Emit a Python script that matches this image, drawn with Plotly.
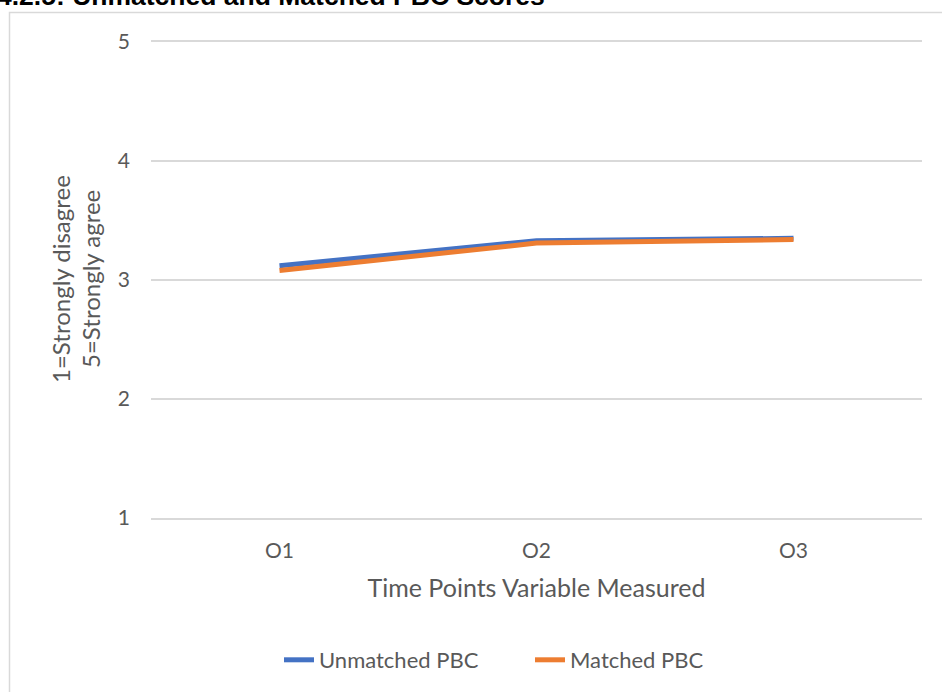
import plotly.graph_objects as go

categories = ["O1", "O2", "O3"]
unmatched = [3.12, 3.33, 3.35]
matched = [3.08, 3.31, 3.34]
y_ticks = [1, 2, 3, 4, 5]

W, H = 942, 692
L, R, T, B = 151, 20, 42, 174
pw, ph = W - L - R, H - T - B

def px_x(p):
    return (p - L) / pw

def px_y(p):
    return (H - B - p) / ph

TXT = "#595959"
GRID = "#D9D9D9"
FONT = "Lato"

fig = go.Figure()
fig.add_trace(go.Scatter(x=categories, y=unmatched, mode="lines", name="Unmatched PBC",
                         line=dict(color="#4472C4", width=5)))
fig.add_trace(go.Scatter(x=categories, y=matched, mode="lines", name="Matched PBC",
                         line=dict(color="#ED7D31", width=5)))

fig.update_layout(
    width=W, height=H,
    margin=dict(l=L, r=R, t=T, b=B, autoexpand=False),
    paper_bgcolor="white", plot_bgcolor="white",
    font=dict(family=FONT, color=TXT, size=20),
    showlegend=True,
    legend=dict(orientation="h", x=px_x(279), xanchor="left", y=px_y(660), yanchor="middle",
                font=dict(size=22, color=TXT), entrywidth=206, entrywidthmode="pixels",
                tracegroupgap=0, bgcolor="rgba(0,0,0,0)"),
)
fig.update_xaxes(
    type="category", range=[-0.5, 2.5],
    showgrid=False, zeroline=False,
    showline=True, mirror=True, linecolor=GRID, linewidth=1.5,
    tickfont=dict(size=21, color=TXT), ticklabelstandoff=13,
    title=dict(text="Time Points Variable Measured", font=dict(size=25, color=TXT), standoff=19),
)
fig.update_yaxes(
    range=[1, 5], tickvals=y_ticks,
    showgrid=True, gridcolor=GRID, gridwidth=1.5,
    zeroline=False, showline=False,
    tickfont=dict(size=21, color=TXT), ticklabelstandoff=20,
)

# y-axis title (two lines, rotated)
for txt, xc in [("1=Strongly disagree", 60), ("5=Strongly agree", 90)]:
    fig.add_annotation(text=txt, xref="paper", yref="paper", x=px_x(xc), y=px_y(279),
                       xanchor="center", yanchor="middle", textangle=-90, showarrow=False,
                       font=dict(family=FONT, size=24, color=TXT))

# chart-area border
fig.add_shape(type="rect", xref="paper", yref="paper",
              x0=px_x(9.5), x1=px_x(1000), y0=px_y(800), y1=px_y(12.5),
              line=dict(color=GRID, width=1.5), fillcolor="rgba(0,0,0,0)", layer="below")

# partially cut-off caption at top
fig.add_annotation(text="<b>4.2.5: Unmatched and Matched PBC Scores</b>", xref="paper", yref="paper",
                   x=px_x(-5), y=px_y(-4), xanchor="left", yanchor="middle", showarrow=False,
                   font=dict(family="Liberation Sans", size=26.5, color="black"))

fig.write_html("out.html", config={"displayModeBar": False},
               post_script="document.body.style.margin='0';document.body.style.overflow='hidden';")
